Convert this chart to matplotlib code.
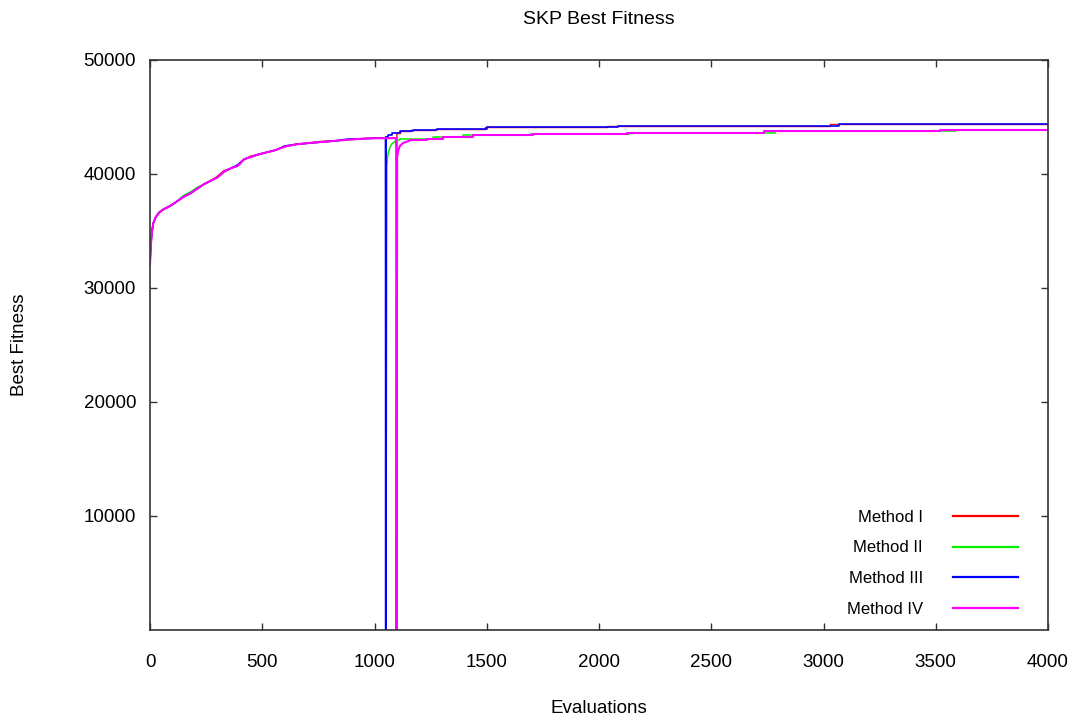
import matplotlib
matplotlib.use("Agg")
import matplotlib.pyplot as plt

plt.rcParams['font.family'] = ['Liberation Sans', 'DejaVu Sans']

# shared evaluation points of the first run (before the restarts)
early_evals = [0, 3, 8, 15, 25, 40, 60, 90, 120, 150, 180, 210, 240, 270, 300, 330,
               360, 390, 420, 450, 480, 520, 560, 600, 650, 700, 760, 820, 880, 940, 1000]

# Method I (red)
m1_early = [32100, 33500, 34800, 35700, 36200, 36600, 36900, 37200, 37600, 38000, 38300,
            38700, 39100, 39400, 39800, 40300, 40500, 40700, 41300, 41580, 41700, 41900,
            42100, 42400, 42600, 42700, 42860, 42900, 43000, 43090, 43140]
m1_restart_evals = [1097, 1098, 1100]
m1_restart_fit = [43140, 0, 43600]
m1_step_evals = [1100, 1114, 1160, 1270, 1490, 2034, 3029, 4000]
m1_step_fit = [43600, 43730, 43820, 43970, 44110, 44250, 44350, 44350]

# Method II (green)
m2_early = [32100, 33500, 34800, 35700, 36200, 36680, 36900, 37200, 37600, 38120, 38420,
            38820, 39100, 39400, 39700, 40200, 40500, 40700, 41300, 41500, 41700, 41900,
            42100, 42400, 42600, 42700, 42800, 42900, 43000, 43090, 43140]
m2_restart_evals = [1050, 1051, 1055, 1058, 1064, 1070, 1078, 1090, 1114]
m2_restart_fit = [43140, 0, 40700, 41500, 42050, 42400, 42650, 42850, 43030]
m2_step_evals = [1114, 1150, 1260, 1394, 1693, 2138, 2783, 3590, 4000]
m2_step_fit = [43030, 43090, 43230, 43380, 43530, 43640, 43800, 43900, 43900]

# Method III (blue)
m3_early = [32100, 33650, 34950, 35700, 36200, 36600, 36900, 37200, 37600, 38000, 38300,
            38700, 39100, 39400, 39700, 40200, 40500, 40800, 41300, 41500, 41700, 41900,
            42100, 42460, 42600, 42700, 42800, 42900, 43060, 43090, 43140]
m3_restart_evals = [1049, 1050, 1051]
m3_restart_fit = [43140, 0, 43230]
m3_step_evals = [1051, 1061, 1076, 1114, 1172, 1277, 1500, 2085, 3069, 4000]
m3_step_fit = [43230, 43380, 43580, 43730, 43820, 43970, 44110, 44250, 44350, 44350]

# Method IV (magenta)
m4_early = [32100, 33500, 34800, 35700, 36200, 36600, 36900, 37200, 37600, 38000, 38300,
            38700, 39100, 39400, 39700, 40200, 40500, 40700, 41300, 41500, 41700, 41900,
            42100, 42400, 42600, 42700, 42800, 42900, 43000, 43090, 43140]
m4_restart_evals = [1097, 1098, 1101, 1105, 1110, 1114, 1128, 1158]
m4_restart_fit = [43140, 0, 41500, 42000, 42300, 42490, 42730, 42940]
m4_step_evals = [1158, 1232, 1306, 1440, 1707, 2123, 2735, 3518, 4000]
m4_step_fit = [42940, 43090, 43230, 43380, 43530, 43640, 43800, 43900, 43900]

labels = ['Method I', 'Method II', 'Method III', 'Method IV']
colors = ['#ff0000', '#00ee00', '#0000ff', '#ff00ff']
widths = [1.0, 1.1, 1.2, 1.5]
series = [
    (m1_early, m1_restart_evals, m1_restart_fit, m1_step_evals, m1_step_fit),
    (m2_early, m2_restart_evals, m2_restart_fit, m2_step_evals, m2_step_fit),
    (m3_early, m3_restart_evals, m3_restart_fit, m3_step_evals, m3_step_fit),
    (m4_early, m4_restart_evals, m4_restart_fit, m4_step_evals, m4_step_fit),
]

fig = plt.figure(figsize=(10.82, 7.23), dpi=100)
ax = fig.add_axes([150 / 1082, 1 - 630 / 723, 898 / 1082, 570 / 723])

handles = []
for (early, re, rf, se, sf), lab, col, lw in zip(series, labels, colors, widths):
    ax.plot(early_evals + re, early + rf, color=col, lw=lw)
    h, = ax.plot(se, sf, drawstyle='steps-post', color=col, lw=lw, label=lab)
    handles.append(h)

ax.set_xlim(0, 4000)
ax.set_ylim(0, 50000)
ax.set_xticks(range(0, 4001, 500))
ax.set_yticks(range(10000, 50001, 10000))

ax.tick_params(direction='in', top=True, right=True, length=5, width=1,
               color='#333333', labelsize=13.5)
ax.tick_params(axis='x', pad=17)
ax.tick_params(axis='y', pad=10)
for sp in ax.spines.values():
    sp.set_color('#333333')
    sp.set_linewidth(1.2)

ax.set_title('SKP Best Fitness', fontsize=14, pad=26)
ax.set_xlabel('Evaluations', fontsize=13.5)
ax.set_ylabel('Best Fitness', fontsize=13.5)
ax.xaxis.set_label_coords(0.5, -(700 - 630) / 570)
ax.yaxis.set_label_coords(-(150 - 28) / 898, 0.5)

leg = ax.legend(handles=handles, loc='lower right', frameon=False, markerfirst=False,
                bbox_to_anchor=((1018 - 150) / 898, (630 - 617) / 570),
                borderpad=0, borderaxespad=0, handlelength=3.9, handletextpad=1.8,
                labelspacing=0.95, fontsize=12)
for line in leg.get_lines():
    line.set_linewidth(1.6)

fig.savefig('out.png', dpi=100)
